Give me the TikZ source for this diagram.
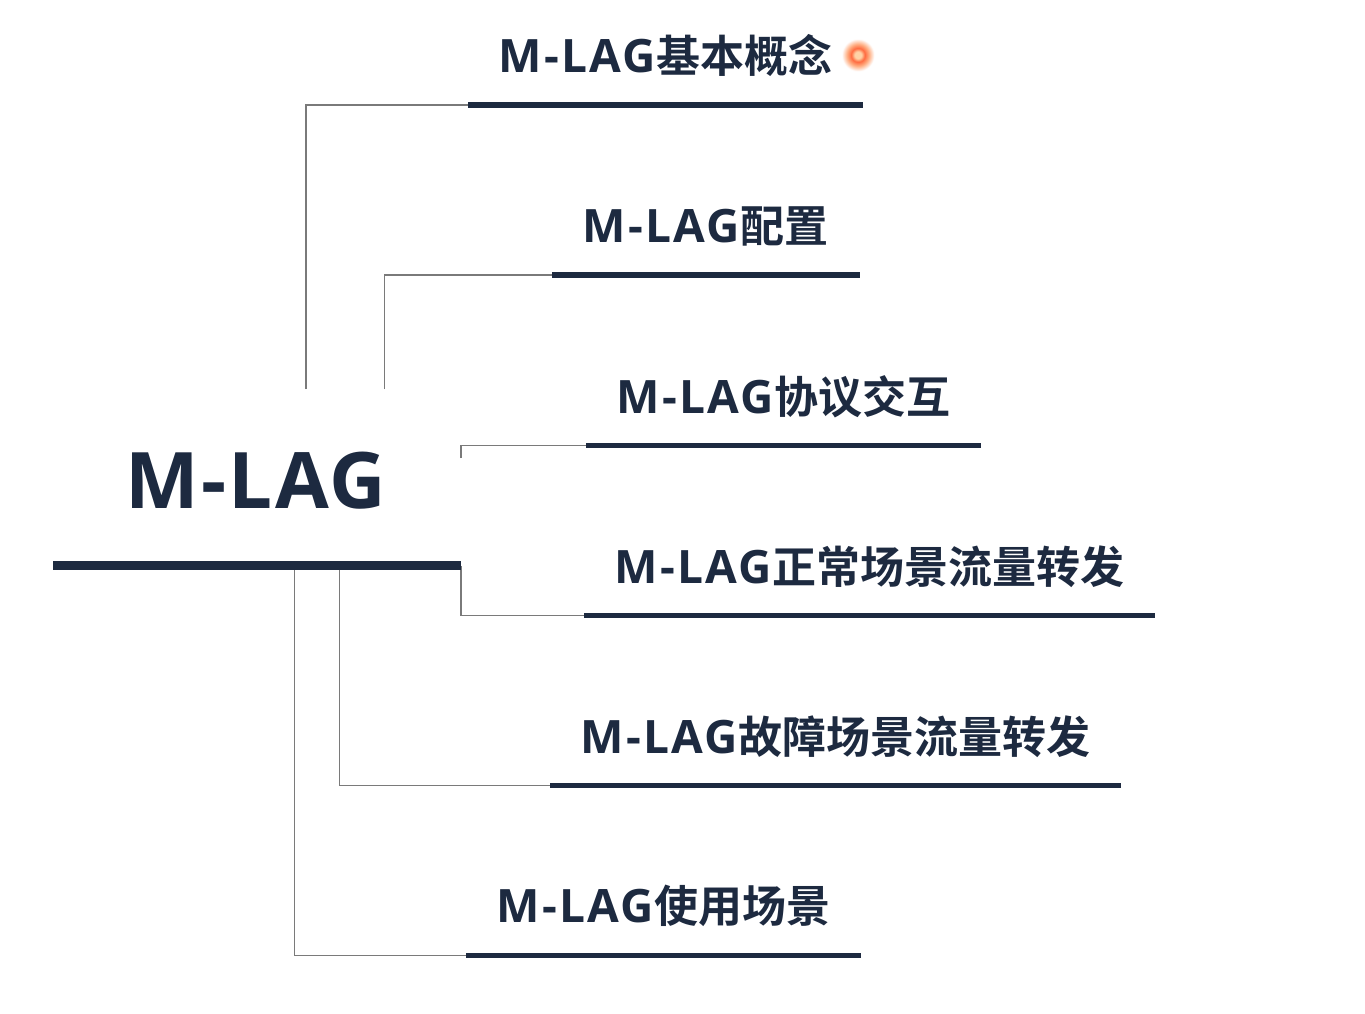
\documentclass[tikz,border=0pt]{standalone}
\usepackage{fontspec}
\setmainfont{Open Sans}
\newfontfamily\cjk{Noto Sans CJK SC}[BoldFont={* Bold}]
\definecolor{navy}{HTML}{1D2A40}
\definecolor{conn}{HTML}{7A7A7A}
\newcommand{\zh}[1]{{\fontsize{44}{44}\selectfont\cjk\bfseries #1}}
\newcommand{\lat}[1]{{\addfontfeature{LetterSpace=5}#1}}
\pgfdeclareradialshading{glow}{\pgfpointorigin}{
 color(0pt)=(orange!35!white);
 color(5pt)=(orange!35!white);
 color(10pt)=(red!55!orange!75!white);
 color(16pt)=(red!30!orange!50!white);
 color(24pt)=(white);
 color(50pt)=(white)}
\tikzset{
 x=1pt,y=-1pt,
 lab/.style={inner sep=0pt,anchor=base west,text=navy,font=\fontsize{46}{46}\selectfont\bfseries},
 rootlab/.style={inner sep=0pt,anchor=base west,text=navy,font=\fontsize{78}{78}\selectfont\bfseries},
 bar/.style={line width=5.2pt,draw=navy},
 rootbar/.style={line width=8.4pt,draw=navy},
 link/.style={line width=1.4pt,draw=conn},
}
\begin{document}
\begin{tikzpicture}
\useasboundingbox (0,0) rectangle (1365,1013);
\fill[white] (0,0) rectangle (1365,1013);
\node[rootlab] (root) at (125.5,508) {{\addfontfeature{LetterSpace=3}M-LAG}};
\node[lab] (a) at (498.5,72) {\lat{M-LAG}\zh{基本概念}};
\node[lab] (b) at (582.5,242) {\lat{M-LAG}\zh{配置}};
\node[lab] (c) at (616.5,413) {\lat{M-LAG}\zh{协议交互}};
\node[lab] (d) at (614.5,583) {\lat{M-LAG}\zh{正常场景流量转发}};
\node[lab] (e) at (580.5,753) {\lat{M-LAG}\zh{故障场景流量转发}};
\node[lab] (f) at (496.5,922) {\lat{M-LAG}\zh{使用场景}};
\coordinate (r1) at (53,565.5); \coordinate (r2) at (461,565.5);
\coordinate (a1) at (468,105); \coordinate (a2) at (863,105);
\coordinate (b1) at (552,275); \coordinate (b2) at (860,275);
\coordinate (c1) at (586,445.5); \coordinate (c2) at (981,445.5);
\coordinate (d1) at (584,615.5); \coordinate (d2) at (1155,615.5);
\coordinate (e1) at (550,785.5); \coordinate (e2) at (1121,785.5);
\coordinate (f1) at (466,955.5); \coordinate (f2) at (861,955.5);
\coordinate (ta) at (306,389); \coordinate (tb) at (384.5,389); \coordinate (tc) at (461,458);
\coordinate (td) at (461,566); \coordinate (te) at (339.5,566); \coordinate (tf) at (294.5,566);
\draw[link] (ta) |- (a1);
\draw[link] (tb) |- (b1);
\draw[link] (tc) |- (c1);
\draw[link] (td) |- (d1);
\draw[link] (te) |- (e1);
\draw[link] (tf) |- (f1);
\draw[rootbar] (r1) -- (r2);
\foreach \p/\q in {a1/a2,b1/b2,c1/c2,d1/d2,e1/e2,f1/f2} \draw[bar] (\p) -- (\q);
\coordinate (dot) at (858,55);
\shade[shading=glow] (dot) circle (17);
\end{tikzpicture}
\end{document}
